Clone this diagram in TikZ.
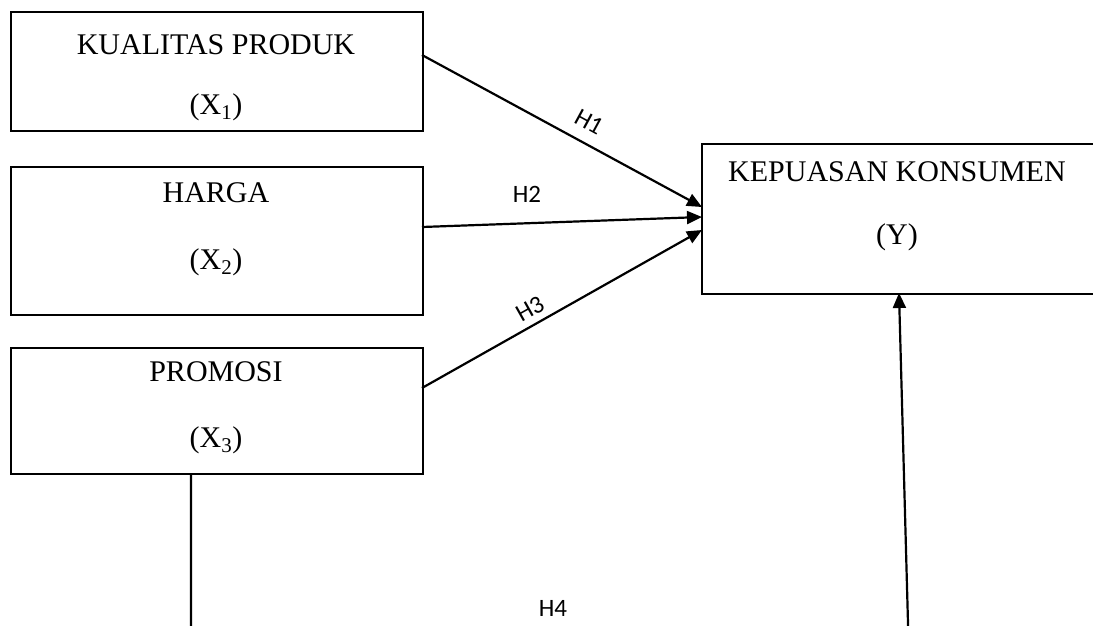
\documentclass[tikz,border=0pt]{standalone}
\usepackage{fontspec}
\setmainfont{Liberation Serif}
\newfontfamily\lblfont{Carlito}
\usetikzlibrary{arrows.meta}
\begin{document}
\begin{tikzpicture}[x=1pt,y=1pt,
  box/.style={draw, line width=1.8pt, inner sep=0pt, anchor=north west},
  btxt/.style={font=\fontsize{30}{30}\selectfont, inner sep=0pt},
  conn/.style={line width=2.2pt, -{Triangle[length=15pt,width=13pt]}},
  hlbl/.style={font=\lblfont\fontsize{25}{25}\selectfont, inner sep=0pt}]
\useasboundingbox (0,0) rectangle (1093,-625);
\clip (0,0) rectangle (1093,-625);
% boxes
\node[box, minimum width=412pt, minimum height=119pt] (x1) at (10,-11) {};
\node[box, minimum width=412pt, minimum height=148pt] (x2) at (10,-166) {};
\node[box, minimum width=412pt, minimum height=126pt] (x3) at (10,-347) {};
\node[box, minimum width=420pt, minimum height=150pt] (y) at (701,-143) {};
% box texts
\node[btxt] (x1a) at (216,-45) {KUALITAS PRODUK};
\node[btxt] (x1b) at (216,-107) {(X\textsubscript{1})};
\node[btxt] (x2a) at (216,-193) {HARGA};
\node[btxt] (x2b) at (216,-262) {(X\textsubscript{2})};
\node[btxt] (x3a) at (216,-372) {PROMOSI};
\node[btxt] (x3b) at (216,-440) {(X\textsubscript{3})};
\node[btxt] (ya) at (897,-172) {KEPUASAN KONSUMEN};
\node[btxt] (yb) at (897,-237) {(Y)};
% connector points
\coordinate (s1) at (422,-55);
\coordinate (s2) at (422,-227);
\coordinate (s3) at (422,-388);
\coordinate (e1) at (702,-207);
\coordinate (e2) at (702,-217);
\coordinate (e3) at (702,-230);
\coordinate (s4) at (191,-473);
\coordinate (c1) at (191,-660);
\coordinate (c2) at (909,-660);
\coordinate (e4) at (899,-293);
% connectors
\draw[conn] (s1) -- (e1);
\draw[conn] (s2) -- (e2);
\draw[conn] (s3) -- (e3);
\draw[conn] (s4) -- (c1) -- (c2) -- (e4);
% labels
\node[hlbl, rotate=-28.5] (h1) at (589,-122) {H1};
\node[hlbl] (h2) at (527,-194) {H2};
\node[hlbl, rotate=29.4] (h3) at (530,-309) {H3};
\node[hlbl] (h4) at (553,-608) {H4};
\end{tikzpicture}
\end{document}
